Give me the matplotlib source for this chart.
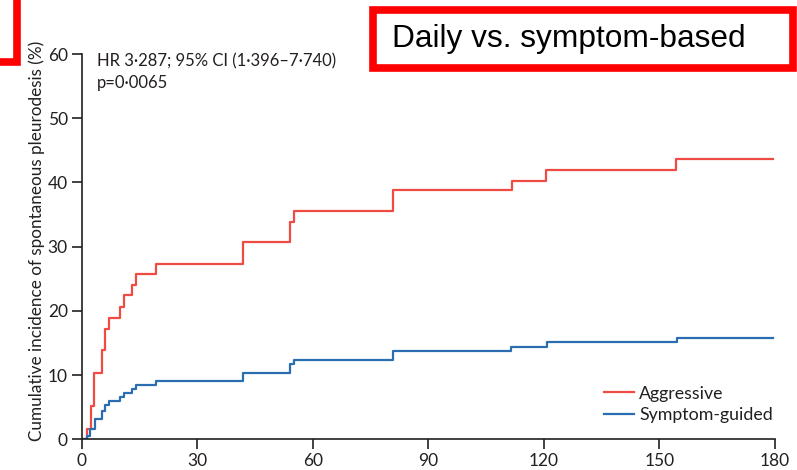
import matplotlib
matplotlib.use("Agg")
import matplotlib.pyplot as plt
from matplotlib.patches import Rectangle

# Kaplan-Meier style cumulative incidence
red_days = [0, 1.3, 2.3, 3.2, 5.3, 6.0, 7.0, 9.9, 11.1, 13.1, 14.1, 19.2,
            41.8, 54.1, 55.0, 80.7, 111.6, 120.6, 154.4, 179.5]
red_vals = [0, 1.6, 5.2, 10.3, 13.9, 17.2, 18.9, 20.6, 22.4, 24.0, 25.7, 27.3,
            30.7, 33.9, 35.6, 38.8, 40.3, 41.9, 43.6, 43.6]

blue_days = [0, 1.3, 2.2, 3.4, 5.3, 6.0, 7.0, 9.9, 11.1, 13.1, 14.1, 19.2,
             41.8, 54.1, 55.0, 80.7, 111.5, 120.7, 154.5, 179.6]
blue_vals = [0, 0.5, 1.6, 3.2, 4.4, 5.4, 6.0, 6.6, 7.2, 7.8, 8.4, 9.1,
             10.4, 11.8, 12.3, 13.7, 14.4, 15.1, 15.8, 15.8]

x_ticks = [0, 30, 60, 90, 120, 150, 180]
y_ticks = [0, 10, 20, 30, 40, 50, 60]

txt = '#231f20'
plt.rcParams['font.family'] = ['Lato', 'DejaVu Sans']

fig = plt.figure(figsize=(7.97, 4.70), dpi=100)
ax = fig.add_axes([0.1025, 0.0653, 0.8699, 0.8197])

ax.step(red_days, red_vals, where='post', color='#ef4a44', lw=1.6, label='Aggressive')
ax.step(blue_days, blue_vals, where='post', color='#2a6db0', lw=1.6, label='Symptom-guided')

ax.set_xlim(0, 180)
ax.set_ylim(0, 60)
ax.set_xticks(x_ticks)
ax.set_yticks(y_ticks)
for s in ['top', 'right']:
    ax.spines[s].set_visible(False)
for s in ['left', 'bottom']:
    ax.spines[s].set_linewidth(1.2)
    ax.spines[s].set_color(txt)
ax.spines['left'].set_bounds(0, 60)
ax.spines['bottom'].set_bounds(0, 180)
ax.tick_params(direction='out', length=7, width=1.2, color=txt,
               labelsize=12.5, labelcolor=txt, pad=3)
ax.set_ylabel('Cumulative incidence of spontaneous pleurodesis (%)',
              fontsize=12.3, color=txt)
ax.yaxis.set_label_coords(-0.053, 0.515)

ax.text(4, 58.9, 'HR 3·287; 95% CI (1·396–7·740)', fontsize=12,
        color=txt, va='center', ha='left')
ax.text(4, 55.5, 'p=0·0065', fontsize=12, color=txt, va='center', ha='left')

ax.legend(loc='lower right', bbox_to_anchor=(1.02, 0.0), frameon=False,
          fontsize=12.8, handlelength=1.7, handletextpad=0.3, labelspacing=0.32,
          labelcolor=txt)

# red annotation boxes (figure pixels)
W, H = 797, 470
def box(x0, y0, x1, y1):
    fig.patches.append(Rectangle((x0 / W, 1 - y1 / H), (x1 - x0) / W, (y1 - y0) / H,
                                 transform=fig.transFigure, fill=False,
                                 edgecolor='#ff0000', lw=5.5, clip_on=False))

box(-40, -40, 17, 62)
box(373, 10, 793, 68)

fig.text(392 / W, 1 - 39 / H, 'Daily vs. symptom-based', fontsize=22.8,
         family='Liberation Sans', color='black', va='center', ha='left')

fig.savefig('out.png', dpi=100)
